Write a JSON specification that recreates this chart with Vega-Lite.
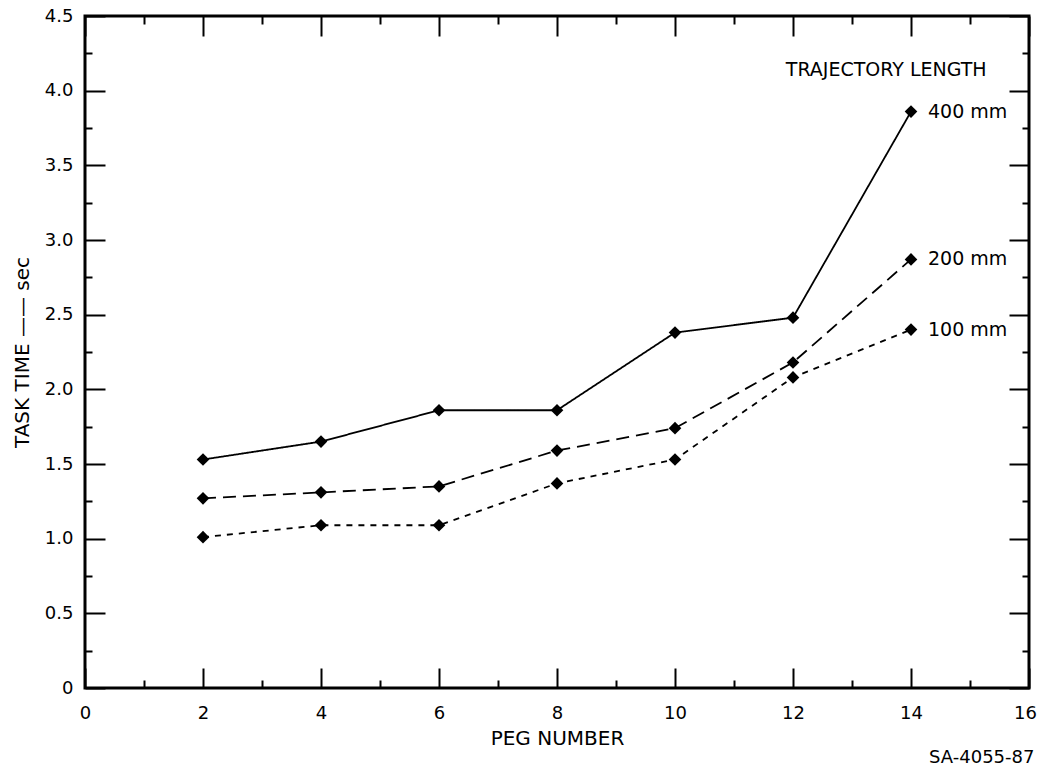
{
  "$schema": "https://vega.github.io/schema/vega-lite/v6.json",
  "width": 944,
  "height": 672,
  "autosize": {"type": "none"},
  "padding": {"left": 85, "top": 16, "right": 9, "bottom": 81},
  "background": "white",
  "config": {
    "font": "DejaVu Sans",
    "view": {"stroke": "black", "strokeWidth": 3}
  },
  "title": {
    "text": "SA-4055-87",
    "orient": "bottom",
    "anchor": "end",
    "fontSize": 18,
    "fontWeight": "normal",
    "color": "black",
    "offset": 1,
    "dx": -2
  },
  "datasets": {
    "series": [
      {"peg": 2, "time": 1.53, "length": "400 mm"},
      {"peg": 4, "time": 1.65, "length": "400 mm"},
      {"peg": 6, "time": 1.86, "length": "400 mm"},
      {"peg": 8, "time": 1.86, "length": "400 mm"},
      {"peg": 10, "time": 2.38, "length": "400 mm"},
      {"peg": 12, "time": 2.48, "length": "400 mm"},
      {"peg": 14, "time": 3.86, "length": "400 mm"},
      {"peg": 2, "time": 1.27, "length": "200 mm"},
      {"peg": 4, "time": 1.31, "length": "200 mm"},
      {"peg": 6, "time": 1.35, "length": "200 mm"},
      {"peg": 8, "time": 1.59, "length": "200 mm"},
      {"peg": 10, "time": 1.74, "length": "200 mm"},
      {"peg": 12, "time": 2.18, "length": "200 mm"},
      {"peg": 14, "time": 2.87, "length": "200 mm"},
      {"peg": 2, "time": 1.01, "length": "100 mm"},
      {"peg": 4, "time": 1.09, "length": "100 mm"},
      {"peg": 6, "time": 1.09, "length": "100 mm"},
      {"peg": 8, "time": 1.37, "length": "100 mm"},
      {"peg": 10, "time": 1.53, "length": "100 mm"},
      {"peg": 12, "time": 2.08, "length": "100 mm"},
      {"peg": 14, "time": 2.40, "length": "100 mm"}
    ],
    "heading": [
      {"peg": 13.58, "time": 4.14, "text": "TRAJECTORY LENGTH"}
    ]
  },
  "layer": [
    {
      "data": {"name": "series"},
      "mark": {"type": "line", "color": "black", "strokeWidth": 1.8},
      "encoding": {
        "x": {
          "field": "peg",
          "type": "quantitative",
          "scale": {"domain": [0, 16], "nice": false, "zero": false},
          "axis": {
            "orient": "bottom",
            "values": [0, 1, 2, 3, 4, 5, 6, 7, 8, 9, 10, 11, 12, 13, 14, 15, 16],
            "labelExpr": "datum.value % 2 === 0 ? datum.label : ''",
            "labelOffset": {"condition": {"test": "datum.value === 16", "value": -4}, "value": 0},
            "tickSize": {"condition": {"test": "datum.value % 2 === 0", "value": -20}, "value": -8},
            "tickColor": "black",
            "tickWidth": 2,
            "domain": false,
            "grid": false,
            "labelFontSize": 18,
            "labelColor": "black",
            "labelPadding": 36,
            "labelFlush": false,
            "title": "PEG NUMBER",
            "titleFontSize": 20,
            "titleFontWeight": "normal",
            "titleColor": "black",
            "titleY": 50,
            "titleBaseline": "middle"
          }
        },
        "y": {
          "field": "time",
          "type": "quantitative",
          "scale": {"domain": [0, 4.5], "nice": false},
          "axis": {
            "orient": "left",
            "values": [0, 0.25, 0.5, 0.75, 1, 1.25, 1.5, 1.75, 2, 2.25, 2.5, 2.75, 3, 3.25, 3.5, 3.75, 4, 4.25, 4.5],
            "labelExpr": "datum.value % 0.5 === 0 ? (datum.value === 0 ? '0' : format(datum.value, '.1f')) : ''",
            "tickSize": {"condition": {"test": "datum.value % 0.5 === 0", "value": -20}, "value": -7},
            "tickColor": "black",
            "tickWidth": 2,
            "domain": false,
            "grid": false,
            "labelFontSize": 18,
            "labelColor": "black",
            "labelPadding": 32,
            "labelFlush": false,
            "title": "TASK TIME —— sec",
            "titleFontSize": 20,
            "titleFontWeight": "normal",
            "titleColor": "black",
            "titleX": -63,
            "titleY": 336,
            "titleAngle": -90,
            "titleBaseline": "middle",
            "titleAlign": "center"
          }
        },
        "strokeDash": {
          "field": "length",
          "type": "nominal",
          "scale": {"domain": ["400 mm", "200 mm", "100 mm"], "range": [[1, 0], [13, 7], [6, 6]]},
          "legend": null
        }
      }
    },
    {
      "data": {"name": "series"},
      "mark": {"type": "point", "shape": "diamond", "filled": true, "color": "black", "size": 160, "opacity": 1},
      "encoding": {
        "x": {"field": "peg", "type": "quantitative", "axis": null},
        "y": {"field": "time", "type": "quantitative", "axis": null}
      }
    },
    {
      "data": {"name": "series"},
      "transform": [{"filter": "datum.peg === 14"}],
      "mark": {"type": "text", "align": "left", "baseline": "middle", "dx": 17, "fontSize": 19, "color": "black"},
      "encoding": {
        "x": {"field": "peg", "type": "quantitative", "axis": null},
        "y": {"field": "time", "type": "quantitative", "axis": null},
        "text": {"field": "length"}
      }
    },
    {
      "data": {"name": "heading"},
      "mark": {"type": "text", "align": "center", "baseline": "middle", "fontSize": 19, "color": "black"},
      "encoding": {
        "x": {"field": "peg", "type": "quantitative", "axis": null},
        "y": {"field": "time", "type": "quantitative", "axis": null},
        "text": {"field": "text"}
      }
    },
    {
      "data": {"name": "series"},
      "mark": {"type": "point", "opacity": 0},
      "encoding": {
        "x": {
          "field": "peg",
          "type": "quantitative",
          "axis": {
            "orient": "top",
            "values": [0, 1, 2, 3, 4, 5, 6, 7, 8, 9, 10, 11, 12, 13, 14, 15, 16],
            "labels": false,
            "tickSize": {"condition": {"test": "datum.value % 2 === 0", "value": -20}, "value": -8},
            "tickColor": "black",
            "tickWidth": 2,
            "domain": false,
            "grid": false,
            "title": null
          }
        },
        "y": {
          "field": "time",
          "type": "quantitative",
          "axis": {
            "orient": "right",
            "values": [0, 0.25, 0.5, 0.75, 1, 1.25, 1.5, 1.75, 2, 2.25, 2.5, 2.75, 3, 3.25, 3.5, 3.75, 4, 4.25, 4.5],
            "labels": false,
            "tickSize": {"condition": {"test": "datum.value % 0.5 === 0", "value": -20}, "value": -7},
            "tickColor": "black",
            "tickWidth": 2,
            "domain": false,
            "grid": false,
            "title": null
          }
        }
      }
    }
  ],
  "resolve": {"axis": {"x": "independent", "y": "independent"}}
}
